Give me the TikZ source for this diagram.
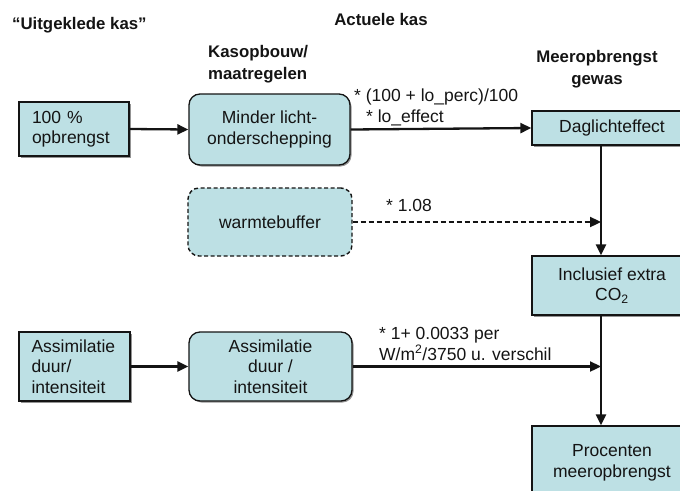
\documentclass[tikz,border=0pt]{standalone}
\usepackage{fontspec}
\setmainfont{Liberation Sans}
\usetikzlibrary{arrows.meta,shadows}
\definecolor{boxfill}{RGB}{189,224,228}
\definecolor{ink}{RGB}{20,20,20}
\begin{document}
\begin{tikzpicture}[x=1pt,y=-1pt,
  every node/.style={text=ink},
  body/.style={font=\fontsize{17.5}{20.5}\selectfont},
  heading/.style={font=\fontsize{16.8}{22}\selectfont\bfseries, inner sep=0pt},
  note/.style={font=\fontsize{17.5}{21}\selectfont, inner sep=0pt, align=left, anchor=west},
  plainbox/.style={body, draw=ink, line width=1.3pt, fill=boxfill,
    drop shadow={shadow xshift=1.5pt, shadow yshift=-1.5pt, fill=gray!85, opacity=1},
    inner sep=0pt, align=center},
  roundbox/.style={plainbox, rounded corners=11pt},
  dashbox/.style={body, draw=ink, line width=1.4pt, fill=boxfill, dashed,
    dash pattern=on 4pt off 2.5pt, rounded corners=11pt, inner sep=0pt, align=center},
  arr/.style={draw=ink, line width=2.3pt, -{Triangle[length=11pt,width=10pt]}},
  dasharr/.style={arr, dash pattern=on 5pt off 3pt}
]
\useasboundingbox (0,0) rectangle (680,490);
\clip (0,0) rectangle (680,490);

% column headings
\node[heading, anchor=west] (hUit) at (12,25) {“Uitgeklede kas”};
\node[heading] (hAct) at (381,19) {Actuele kas};
\node[heading, anchor=west, align=left] (hKas) at (208,64) {Kasopbouw/\\maatregelen};
\node[heading, align=center] (hMeer) at (597,69.5) {Meeropbrengst\\gewas};

% boxes
\node[plainbox, minimum width=110pt, minimum height=54pt, text width=84pt, align=left]
  (base) at (74,129) {100 \%\\opbrengst};
\node[roundbox, minimum width=161pt, minimum height=71pt]
  (minder) at (269.5,129.5) {Minder licht-\\onderschepping};
\node[plainbox, minimum width=160pt, minimum height=34pt]
  (dag) at (612,128) {Daglichteffect};
\node[dashbox, minimum width=164pt, minimum height=68pt]
  (warm) at (270,222) {warmtebuffer};
\node[plainbox, minimum width=160pt, minimum height=59pt]
  (co2) at (612,285.5) {Inclusief extra\\CO\textsubscript{2}};
\node[plainbox, minimum width=111pt, minimum height=69pt, text width=86pt, align=left]
  (assL) at (74.5,366.5) {Assimilatie\\duur/\\intensiteit};
\node[roundbox, minimum width=163pt, minimum height=69pt]
  (assR) at (270.5,366.5) {Assimilatie\\duur /\\intensiteit};
\node[plainbox, minimum width=160pt, minimum height=74pt]
  (proc) at (612,463) {Procenten\\meeropbrengst};

% the vertical trunk on the right
\coordinate (trunk) at (601,0);

% connectors
\draw[arr] (base.east) -- (minder.west);
\draw[arr] (minder.east) -- (dag.west);
\draw[arr] (trunk |- dag.south) -- (trunk |- co2.north);
\draw[dasharr] (warm.east) -- (trunk |- warm.east);
\draw[arr] (assL.east) -- (assR.west);
\draw[arr] (trunk |- co2.south) -- (trunk |- proc.north);
\draw[arr] (assR.east) -- (trunk |- assR.east);

% factor labels
\node[note] (fLicht) at (354,107) {* (100 + lo\_perc)/100\\\hspace*{12pt}* lo\_effect};
\node[note] (fWarm) at (386,205) {* 1.08};
\node[note] (fAss) at (379,343.5) {* 1+ 0.0033 per\\W/m\textsuperscript{2}/3750 u. verschil};
\end{tikzpicture}
\end{document}
